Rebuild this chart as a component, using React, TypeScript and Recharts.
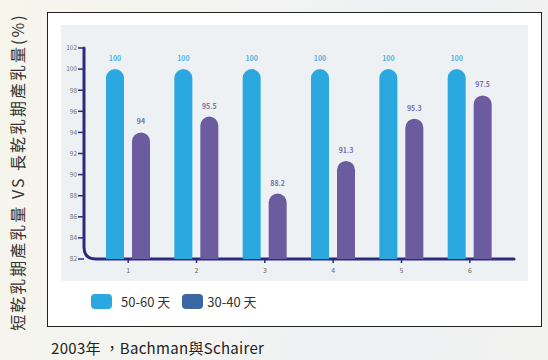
import React from 'react';
import * as R from 'recharts';
import { BarChart, Bar, XAxis, YAxis, LabelList } from 'recharts';

const categories = ['1', '2', '3', '4', '5', '6'];
const longDry = [100, 100, 100, 100, 100, 100];
const shortDry = [94, 95.5, 88.2, 91.3, 95.3, 97.5];
const yTicks = [82, 84, 86, 88, 90, 92, 94, 96, 98, 100, 102];
const seriesNames = ['50-60 天', '30-40 天'];
const titleText = '短乾乳期產乳量 VS 長乾乳期產乳量(%)';
const captionText = '2003年 ，Bachman與Schairer';

const BLUE = '#2aa8df';
const PURPLE = '#6a5c9f';
const LEGEND2 = '#3a66a6';
const NAVY = '#2b2a7c';
const FONT = '"Noto Sans CJK TC", "Noto Sans", sans-serif';

const data = categories.map((c, i) => ({ cat: c, a: longDry[i], b: shortDry[i] }));

const usePlotAreaHook: any = (R as any).usePlotArea;
const hasHook = typeof usePlotAreaHook === 'function';

function CornerAxis() {
  const p = usePlotAreaHook();
  if (!p) return null;
  const x0 = p.x;
  const y0 = p.y;
  const yb = p.y + p.height;
  const xr = p.x + p.width;
  const r = 12;
  const d = `M ${x0} ${y0} L ${x0} ${yb - r} Q ${x0} ${yb} ${x0 + r} ${yb} L ${xr} ${yb}`;
  return <path d={d} fill="none" stroke={NAVY} strokeWidth={3} strokeLinecap="round" />;
}

export default function App() {
  return (
    <div
      style={{
        position: 'absolute',
        left: 0,
        top: 0,
        width: 548,
        height: 360,
        overflow: 'hidden',
        background: 'linear-gradient(100deg, #f6f6ec 0%, #f3f4f2 40%, #eef0f2 70%, #f2f2f0 100%)',
        fontFamily: FONT,
      }}
    >
      <div
        style={{
          position: 'absolute',
          left: 47,
          top: 12,
          width: 493,
          height: 313,
          background: '#ffffff',
          border: '1.5px solid #222',
        }}
      />
      <div
        style={{
          position: 'absolute',
          left: 61,
          top: 25,
          width: 467,
          height: 256,
          background: '#eef1f4',
        }}
      />
      <div style={{ position: 'absolute', left: 0, top: 0 }}>
        <BarChart
          width={548}
          height={360}
          data={data}
          margin={{ top: 48, right: 34, bottom: 81, left: 54 }}
          barSize={18}
          barGap={8}
        >
          <XAxis
            dataKey="cat"
            padding={{ left: 10, right: 10 }}
            axisLine={hasHook ? false : { stroke: NAVY, strokeWidth: 3 }}
            tickLine={{ stroke: NAVY, strokeWidth: 1.5 }}
            tickSize={4}
            tickMargin={5}
            height={20}
            tick={{ fontSize: 7, fill: '#666', fontFamily: FONT }}
          />
          <YAxis
            domain={[82, 102]}
            ticks={yTicks}
            interval={0}
            width={30}
            axisLine={hasHook ? false : { stroke: NAVY, strokeWidth: 3 }}
            tickLine={{ stroke: NAVY, strokeWidth: 1.5 }}
            tickSize={6}
            tickMargin={1}
            allowDataOverflow
            tick={{ fontSize: 6.5, fill: '#6f6f6f', fontFamily: FONT }}
          />
          <Bar dataKey="a" name={seriesNames[0]} fill={BLUE} radius={[9, 9, 0, 0]} isAnimationActive={false}>
            <LabelList dataKey="a" position="top" offset={8} style={{ fontSize: 7, fill: '#4fb4e2', fontWeight: 600, fontFamily: FONT }} />
          </Bar>
          <Bar dataKey="b" name={seriesNames[1]} fill={PURPLE} radius={[9, 9, 0, 0]} isAnimationActive={false}>
            <LabelList dataKey="b" position="top" offset={8} style={{ fontSize: 7, fill: '#7a70aa', fontWeight: 600, fontFamily: FONT }} />
          </Bar>
          {hasHook ? <CornerAxis /> : null}
        </BarChart>
      </div>
      <div
        style={{
          position: 'absolute',
          left: 91,
          top: 292,
          display: 'flex',
          alignItems: 'center',
          fontSize: 13,
          color: '#333',
          fontFamily: FONT,
        }}
      >
        {[BLUE, LEGEND2].map((c, i) => (
          <div key={i} style={{ display: 'flex', alignItems: 'center', marginRight: i === 0 ? 12 : 0 }}>
            <div style={{ width: 21, height: 15, borderRadius: 4, background: c, marginRight: i === 0 ? 9 : 4 }} />
            <span>{seriesNames[i]}</span>
          </div>
        ))}
      </div>
      <div
        style={{
          position: 'absolute',
          left: 51,
          top: 337,
          fontSize: 15,
          letterSpacing: 0.3,
          color: '#222',
          whiteSpace: 'nowrap',
          fontFamily: FONT,
        }}
      >
        {captionText}
      </div>
      <div
        style={{
          position: 'absolute',
          left: 17,
          top: 172,
          transform: 'translate(-50%, -50%) rotate(-90deg)',
          fontSize: 16,
          letterSpacing: 2,
          color: '#333',
          whiteSpace: 'nowrap',
          fontFamily: FONT,
        }}
      >
        {titleText}
      </div>
    </div>
  );
}
